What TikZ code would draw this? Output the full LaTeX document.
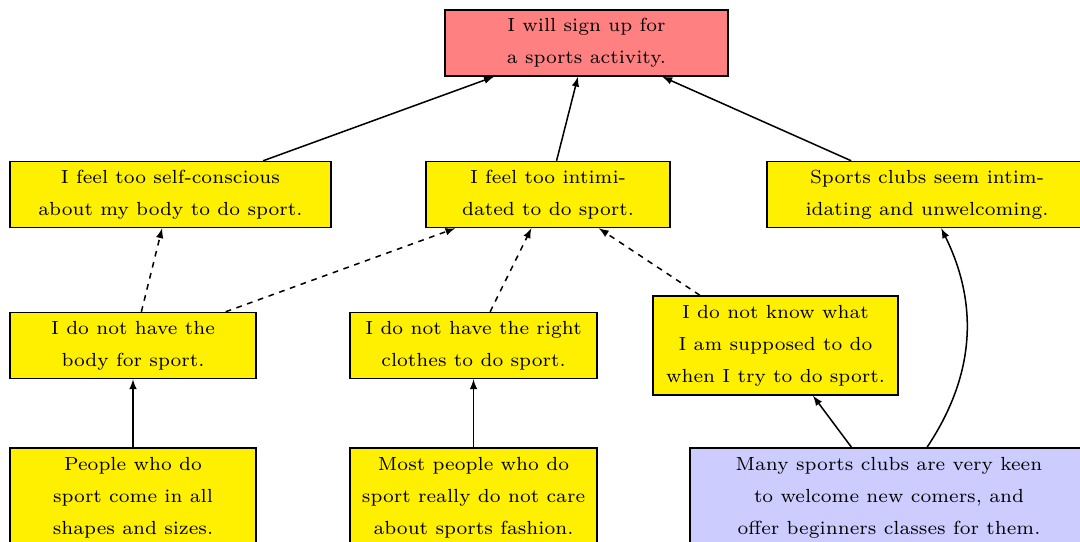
\documentclass[tikz,border=0pt]{standalone}
\usepackage{fontspec}
\usetikzlibrary{arrows}

\newfontfamily\boxfont{lmroman7-regular.otf}
\definecolor{boxyellow}{RGB}{255,240,0}

\begin{document}
\begin{tikzpicture}[->,>=latex,thick,auto,
                    box/.style={draw,fill=boxyellow,align=center,inner sep=2pt,
                      font=\boxfont\fontsize{10}{16.8}\selectfont,minimum height=1.222cm},
                    tall/.style={minimum height=1.833cm}]

  \useasboundingbox (0,0) rectangle (20,-10.037);

  \node [box, fill=red!50, minimum width=5.24cm] (0) at (10.861,-0.796)
    {I will sign up for\\a sports activity.};

  \node [box, minimum width=5.944cm] (1) at (3.157,-3.602)
    {I feel too self-conscious\\about my body to do sport.};
  \node [box, minimum width=4.519cm] (2) at (10.148,-3.602)
    {I feel too intimi-\\dated to do sport.};
  \node [box, minimum width=5.93cm] (3) at (17.167,-3.602)
    {Sports clubs seem intim-\\idating and unwelcoming.};

  \node [box, minimum width=4.556cm] (4) at (2.463,-6.398)
    {I do not have the\\body for sport.};
  \node [box, minimum width=4.574cm] (5) at (8.769,-6.398)
    {I do not have the right\\clothes to do sport.};
  \node [box, tall, minimum width=4.537cm] (6) at (14.361,-6.398)
    {I do not know what\\I am supposed to do\\when I try to do sport.};

  \node [box, tall, minimum width=4.556cm] (7) at (2.463,-9.213)
    {People who do\\sport come in all\\shapes and sizes.};
  \node [box, tall, minimum width=4.574cm] (8) at (8.769,-9.213)
    {Most people who do\\sport really do not care\\about sports fashion.};
  \node [box, tall, fill=blue!20, minimum width=7.37cm] (9) at (16.463,-9.213)
    {Many sports clubs are very keen\\to welcome new comers, and\\offer beginners classes for them.};

  \path (1) edge (0);
  \path (2) edge (0);
  \path (3) edge (0);

  \path (4) edge [dashed] (1);
  \path (4) edge [dashed] (2);
  \path (5) edge [dashed] (2);
  \path (6) edge [dashed] (2);

  \path (7) edge (4);
  \path (8) edge (5);
  \path (9) edge (6);
  \path (9) edge [bend right=30] (3);
\end{tikzpicture}
\end{document}
